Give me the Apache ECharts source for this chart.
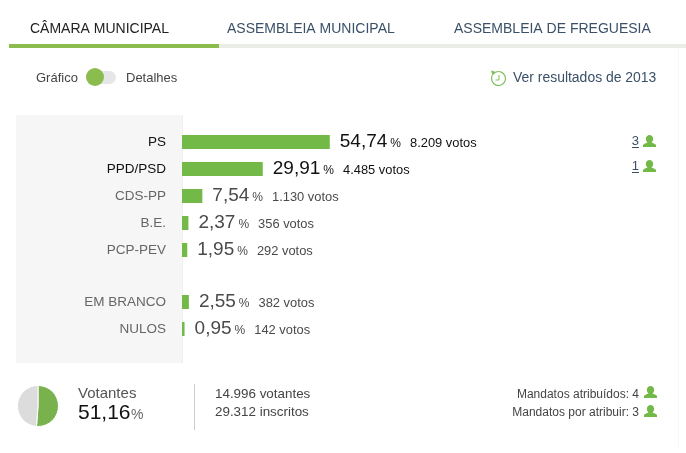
<!DOCTYPE html>
<html>
<head>
<meta charset="utf-8">
<style>html,body{margin:0;padding:0;background:#fff}#c{width:686px;height:453px}</style>
<script src="https://cdn.jsdelivr.net/npm/echarts@6/dist/echarts.min.js"></script>
</head>
<body>
<div id="c"></div>
<script>
const partyNames = ["PS", "PPD/PSD", "CDS-PP", "B.E.", "PCP-PEV"];
const partyPct = [54.74, 29.91, 7.54, 2.37, 1.95];
const partyVotes = ["8.209", "4.485", "1.130", "356", "292"];
const otherNames = ["EM BRANCO", "NULOS"];
const otherPct = [2.55, 0.95];
const otherVotes = ["382", "142"];
const turnoutValues = [51.16, 48.84];
const tabs = ["CÂMARA MUNICIPAL", "ASSEMBLEIA MUNICIPAL", "ASSEMBLEIA DE FREGUESIA"];
const seats = ["3", "1"];

const FONT = '"Liberation Sans", Arial, sans-serif';
const GREEN = "#72b947";
const fmt = v => v.toFixed(2).replace(".", ",");
const tx = (x, y, text, size, fill, align) => ({
  type: "text", x, y,
  style: { text, font: size + "px " + FONT, fill, textAlign: align || "left", textVerticalAlign: "middle" }
});
const rect = (x, y, width, height, fill, r) => ({
  type: "rect", shape: { x, y, width, height, r: r || 0 }, style: { fill }
});
const person = (x, y) => ({
  type: "group", x, y, children: [
    { type: "ellipse", shape: { cx: 6.5, cy: 3.9, rx: 3.7, ry: 3.9 }, style: { fill: GREEN } },
    { type: "polygon", shape: { points: [[0, 12], [0, 10], [1, 9], [4.4, 7.6], [4.4, 6], [8.6, 6], [8.6, 7.6], [12, 9], [13, 10], [13, 12]] }, style: { fill: GREEN } }
  ]
});

function barSeries(pct, votes, idx, darkCount) {
  return {
    type: "bar", xAxisIndex: idx, yAxisIndex: idx, barWidth: 14,
    itemStyle: { color: GREEN }, silent: true,
    label: {
      show: true, position: "right", distance: 10,
      formatter: p => "{n|" + fmt(p.value) + "}{p|%}{v|" + votes[p.dataIndex] + " votos}"
    },
    data: pct.map((v, i) => {
      const c = i < darkCount ? "#111" : "#4a4a4a";
      return {
        value: v,
        label: {
          rich: {
            n: { fontFamily: FONT, fontSize: 19, color: c, padding: [0, 3, 0, 0] },
            p: { fontFamily: FONT, fontSize: 12, color: c, padding: [3, 9, 0, 0] },
            v: { fontFamily: FONT, fontSize: 12.9, color: c, padding: [3, 0, 0, 0] }
          }
        }
      };
    })
  };
}
const catAxis = (names, gridIndex, darkCount) => ({
  type: "category", gridIndex, data: names, inverse: true,
  axisLine: { show: false }, axisTick: { show: false },
  axisLabel: {
    margin: 16, fontFamily: FONT, fontSize: 13.5,
    color: (v, i) => i < darkCount ? "#111" : "#666"
  }
});
const valAxis = gridIndex => ({ type: "value", gridIndex, min: 0, max: 100, show: false });

const graphics = [
  rect(16, 115, 166, 248, "#f6f6f6"),
  rect(182, 115, 1, 248, "#efefef"),
  rect(678, 48, 1, 400, "#f7f7f7"),
  rect(9, 44, 677, 4, "#e9ede6"),
  rect(9, 44, 210, 4, "#8bbd4e"),
  tx(30, 29, tabs[0], 14, "#222"),
  tx(227, 29, tabs[1], 14, "#3a5068"),
  tx(454, 29, tabs[2], 14, "#3a5068"),
  tx(36, 78, "Gráfico", 13, "#444"),
  rect(86, 71, 30, 13, "#e6e6e6", 6.5),
  { type: "circle", shape: { cx: 95, cy: 77, r: 9 }, style: { fill: "#8bbd4e" } },
  tx(126, 78, "Detalhes", 13, "#444"),
  { type: "arc", shape: { cx: 498.5, cy: 78.5, r: 7, startAngle: -Math.PI * 0.62, endAngle: Math.PI * 1.15, clockwise: true },
    style: { fill: null, stroke: "#7fbf5e", lineWidth: 1.2 } },
  { type: "polygon", shape: { points: [[491, 70.5], [496.5, 72], [492.5, 75.5]] }, style: { fill: "#7fbf5e" } },
  { type: "polyline", shape: { points: [[499, 75], [499, 80], [495.5, 80]] }, style: { fill: null, stroke: "#7fbf5e", lineWidth: 1 } },
  tx(513, 78.5, "Ver resultados de 2013", 13.95, "#3a5068"),

  tx(639, 141.5, seats[0], 13, "#3a5068", "right"),
  rect(632, 147, 7, 1, "#3a5068"),
  person(643, 135),
  tx(639, 166.5, seats[1], 13, "#3a5068", "right"),
  rect(632, 172, 7, 1, "#3a5068"),
  person(643, 160),

  tx(78, 393.5, "Votantes", 15, "#555"),
  tx(78, 413.5, "51,16", 21, "#111"),
  tx(131, 415, "%", 14, "#666"),
  rect(194, 384, 1, 46, "#cccccc"),
  tx(215, 394, "14.996 votantes", 13.4, "#444"),
  tx(215, 412.5, "29.312 inscritos", 13.4, "#444"),
  tx(639, 394.5, "Mandatos atribuídos: 4", 12, "#444", "right"),
  person(644, 386),
  tx(639, 413, "Mandatos por atribuir: 3", 12, "#444", "right"),
  person(644, 405)
];
graphics.forEach(g => { g.silent = true; });

const chart = echarts.init(document.getElementById("c"), null, { renderer: "canvas" });
chart.setOption({
  animation: false,
  backgroundColor: "#fff",
  grid: [
    { left: 182, top: 128.5, width: 270, height: 135 },
    { left: 182, top: 288.5, width: 270, height: 54 }
  ],
  xAxis: [valAxis(0), valAxis(1)],
  yAxis: [catAxis(partyNames, 0, 2), catAxis(otherNames, 1, 0)],
  series: [
    barSeries(partyPct, partyVotes, 0, 2),
    barSeries(otherPct, otherVotes, 1, 0),
    {
      type: "pie", center: [38, 406], radius: [0, 20.5], startAngle: 90, silent: true,
      label: { show: false }, labelLine: { show: false },
      itemStyle: { borderColor: "#fff", borderWidth: 1 },
      data: [
        { value: turnoutValues[0], name: "Votantes", itemStyle: { color: "#79b14d" } },
        { value: turnoutValues[1], name: "Abstenção", itemStyle: { color: "#dcdcdc" } }
      ]
    }
  ],
  graphic: { elements: graphics }
});
</script>
</body>
</html>
